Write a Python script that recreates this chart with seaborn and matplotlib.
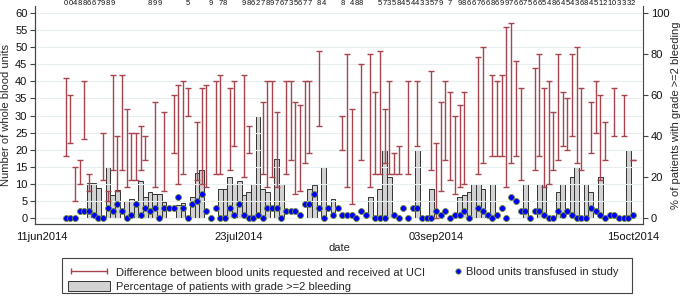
import numpy as np
import pandas as pd
import matplotlib
matplotlib.use("Agg")
import matplotlib.pyplot as plt
from matplotlib.lines import Line2D
from matplotlib.patches import Patch, Rectangle
from matplotlib.legend_handler import HandlerLine2D
import seaborn as sns

NA = np.nan

# one value per day, 16jun2014 .. 15oct2014
dates = pd.date_range("2014-06-16", "2014-10-15", freq="D")

transfused = [0, 0, 0, 2, 2, 2, 1, 0, 0, 3,
              2, 4, 2, 0, 1, 4, 1, 3, 2, 3,
              0, 3, 3, 3, 6, 3, 0, 4, 5, 7,
              2, 0, 3, 0, 0, 3, 1, 4, 1, 0,
              0, 1, 0, 3, 3, 3, 0, 2, 2, 2,
              1, 4, 4, 7, 3, 0, 3, 1, 3, 1,
              1, 1, 0, 2, 1, NA, 0, 0, 0, NA,
              1, 0, 3, 0, 3, 3, 0, 0, 0, 2,
              1, 2, 0, 1, 1, 2, 0, NA, 3, 2,
              1, 0, 1, 3, 0, 6, 5, 2, 2, 0,
              2, 2, 1, 0, 0, 2, 1, 2, 1, 0,
              0, 0, 3, 2, 1, 0, 1, 1, 0, 0,
              0, 1]

req_high = [41, 36, 15, 17, 40, 13, NA, NA, 25, 8,
            42, 24, 42, 32, 25, 25, 27, 24, NA, 34,
            NA, 31, NA, 36, 39, 40, 38, NA, 28, 38,
            39, NA, 40, 42, NA, 38, 40, NA, 42, 27,
            NA, NA, 34, 40, 40, 31, NA, 40, 40, 34,
            33, 40, 40, NA, 49, NA, NA, NA, NA, 30,
            48, 32, NA, 45, NA, 48, 37, 49, 32, 40,
            19, 21, NA, 40, NA, 40, NA, NA, 43, 22,
            34, 40, 37, 30, 33, 37, NA, NA, 47, 50,
            NA, 42, 40, 42, 56, 57, 46, 38, NA, NA,
            44, 48, 38, 40, 31, 48, 37, 35, 48, 50,
            38, NA, 34, 40, 36, 28, NA, 38, NA, 36,
            NA, 17]

req_low = [18, 22, 5, 10, 23, 8, NA, NA, 11, 5,
           14, 8, 14, 9, 11, 11, 14, 17, NA, 9,
           NA, 8, NA, 19, 10, 13, 30, NA, 11, 10,
           9, NA, 13, 13, NA, 14, 21, NA, 12, 19,
           NA, NA, 13, 9, 12, 9, NA, 13, 17, 7,
           8, 16, 19, NA, 27, NA, NA, NA, NA, 20,
           9, 4, NA, 17, NA, 9, 13, 13, 16, 13,
           13, 13, NA, 13, NA, 21, NA, NA, 14, 0,
           8, 17, 11, 7, 9, 10, NA, NA, 13, 16,
           NA, 18, 18, 18, 9, 16, 18, 11, NA, NA,
           14, 18, 9, 10, 14, 17, 21, 20, 24, 16,
           14, NA, 19, 25, 11, 17, NA, 24, NA, 24,
           NA, 17]

bleed_pct = [NA, NA, NA, NA, NA, 17, 17, 14.5, NA, 25,
             11, 13.5, NA, 8.5, 9.3, 8, 18.2, 10.2, 12.8, 11.5,
             11.5, 8, NA, NA, 6.5, 7.2, NA, 10, 21.8, 23.3,
             NA, NA, NA, 14.3, 14.3, 20, 16.7, 18.2, 11.1, 12.5,
             16.7, 50, 14.3, 12.5, NA, 28.6, 16.7, NA, NA, NA,
             NA, NA, 14.3, 16, NA, 25, NA, 9.1, NA, NA,
             NA, NA, NA, NA, NA, 10, NA, 14.3, 33.3, 20,
             NA, NA, NA, NA, NA, 33.3, NA, NA, 14.3, NA,
             NA, NA, NA, NA, 10, 11.1, 12.5, 16.7, 16.7, 14.3,
             NA, 16.7, NA, NA, NA, NA, NA, NA, 16.7, NA,
             NA, 16.7, 16.7, NA, NA, 12.5, 16.7, NA, 20, 25,
             NA, 16.7, 12.5, NA, 20, NA, NA, NA, NA, NA,
             33.3, NA]

# daily digits printed along the top (blank = no label)
top_labels = ("00488667989" + " " * 7 + "899" + " " * 5 + "5" + " " * 4 + "9 78" + " " * 3
              + "986278976735677 84   8 488   57358454433579 7 "
              + "98667668699766756654864543684512103332")

tick_dates = ["2014-06-11", "2014-07-23", "2014-09-03", "2014-10-15"]
tick_text = ["11jun2014", "23jul2014", "03sep2014", "15oct2014"]

df = pd.DataFrame({"date": dates, "transfused": transfused, "req_low": req_low,
                   "req_high": req_high, "bleed_pct": bleed_pct})

red = "#a8444e"
blue = "#0000ff"
dot_edge = "#6b8a35"
bar_fill = "#d2d2d2"
bar_edge = "#333333"
axcol = "#444444"

sns.set_style("white")
plt.rcParams['font.family'] = ['Liberation Sans', 'DejaVu Sans']

fig = plt.figure(figsize=(6.85, 2.97), dpi=100)
ax = fig.add_axes([35 / 685, 73 / 297, 608 / 685, 218 / 297])
ax2 = ax.twinx()
ax.set_zorder(ax2.get_zorder() + 1)
ax.patch.set_visible(False)

# bars on the right-hand % axis
bars = df.dropna(subset=["bleed_pct"])
ax2.bar(bars["date"], bars["bleed_pct"], width=1, color=bar_fill,
        edgecolor=bar_edge, linewidth=0.7)

# requested vs received range (capped)
rng = df.dropna(subset=["req_low"])
ax.errorbar(rng["date"], rng["req_low"],
            yerr=[np.zeros(len(rng)), rng["req_high"] - rng["req_low"]],
            fmt="none", ecolor=red, elinewidth=1, capsize=2, capthick=1, zorder=3)

sns.scatterplot(data=df, x="date", y="transfused", ax=ax, color=blue,
                edgecolor=dot_edge, linewidth=0.6, s=18, zorder=4, legend=False)

for d, ch in zip(dates, top_labels):
    if ch != " ":
        ax.text(d, 62.7, ch, ha="center", va="center", fontsize=5.5,
                color="#111111", clip_on=False)

lo = -6 / 3.4
hi = 211 / 3.4
ax.set_ylim(lo, hi)
ax2.set_ylim(lo / 0.6, hi / 0.6)
ax.set_xlim(pd.Timestamp("2014-06-11") - pd.Timedelta(hours=37),
            pd.Timestamp("2014-06-11") + pd.Timedelta(hours=128 * 24 + 3))

ax.set_yticks(range(0, 61, 5))
ax2.set_yticks(range(0, 101, 20))
ax.set_xticks(pd.to_datetime(tick_dates))
ax.set_xticklabels(tick_text)

ax.yaxis.grid(True, color="#e6eef0", linewidth=0.8)
ax.set_axisbelow(True)

for a in (ax, ax2):
    for s in a.spines.values():
        s.set_color(axcol)
        s.set_linewidth(0.8)
    a.spines["top"].set_visible(False)
    a.tick_params(length=3.5, width=0.8, color=axcol, labelsize=8, pad=2,
                  labelcolor="#111111")
ax.spines["right"].set_visible(False)

ax.set_ylabel("Number of whole blood units", fontsize=8, labelpad=3)
ax2.set_ylabel("% of patients with grade >=2 bleeding", fontsize=8, labelpad=1)
ax.set_xlabel("date", fontsize=8, labelpad=1)

# legend
range_h = Line2D([], [], color=red, lw=1, marker="|", markersize=5, markeredgewidth=1)
bar_h = Patch(facecolor=bar_fill, edgecolor=bar_edge, linewidth=0.7)
dot_h = Line2D([], [], linestyle="none", marker="o", markersize=3.8,
               markerfacecolor=blue, markeredgecolor=dot_edge, markeredgewidth=0.6)

fig.legend([range_h, bar_h],
           ["Difference between blood units requested and received at UCI",
            "Percentage of patients with grade >=2 bleeding"],
           loc="upper left", bbox_to_anchor=(60 / 685, 1 - 259 / 297),
           frameon=False, numpoints=2, fontsize=8, handlelength=3.8,
           handleheight=1.1, handletextpad=0.5, labelspacing=0.25, borderpad=0.2)
fig.legend([dot_h], ["Blood units transfused in study"],
           loc="upper left", bbox_to_anchor=(445 / 685, 1 - 259 / 297),
           frameon=False, fontsize=8, handlelength=1.0, handletextpad=0.2,
           borderpad=0.2, handler_map={dot_h: HandlerLine2D(numpoints=1)})
fig.add_artist(Rectangle((62 / 685, 1 - 293 / 297), 570 / 685, 35 / 297,
                         transform=fig.transFigure, fill=False,
                         edgecolor=axcol, linewidth=0.8))

fig.savefig("out.png", dpi=100)
